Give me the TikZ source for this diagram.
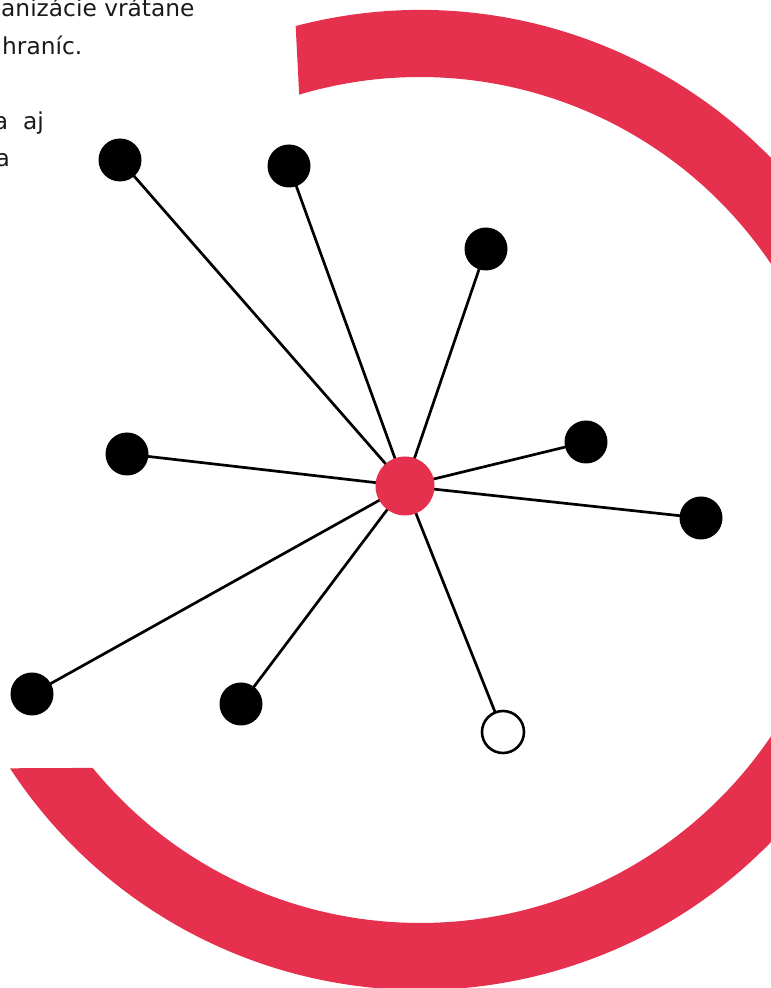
\documentclass[tikz,border=0pt]{standalone}
\usepackage{fontspec}
\setmainfont{DejaVu Sans}
\definecolor{ringred}{RGB}{230,49,78}
\definecolor{txt}{RGB}{26,26,26}
\pgfdeclarelayer{back}
\pgfsetlayers{back,main}
\begin{document}
\begin{tikzpicture}[x=1pt,y=1pt,
  dot/.style={circle,fill=black,minimum size=43pt,inner sep=0pt},
  opendot/.style={circle,draw=black,line width=2.6pt,fill=white,minimum size=42pt,inner sep=0pt},
  hub/.style={circle,fill=ringred,minimum size=59pt,inner sep=0pt},
  spoke/.style={draw=black,line width=2.7pt},
  para/.style={inner sep=0pt,text=txt,font=\fontsize{23.3}{28}\selectfont}]
\useasboundingbox (0,0) rectangle (771,988);
% ring
\fill[ringred] ([shift={(420,488)}]104.7:490) arc[start angle=104.7,end angle=-146.8,radius=490]
  -- ([shift={(420,488)}]-140.7:423) arc[start angle=-140.7,end angle=106.6,radius=423] -- cycle;
% text
\node[para,anchor=base west] (t1) at (1,971) {anizácie vrátane};
\node[para,anchor=base west] (t2) at (2,933) {hraníc.};
\node[para,anchor=base east] (t3) at (44,858) {a\ \ aj};
\node[para,anchor=base east] (t4) at (10,821) {a};
% nodes
\node[hub] (c) at (405,502) {};
\node[dot] (n1) at (120,828) {};
\node[dot] (n2) at (289,822) {};
\node[dot] (n3) at (486,739) {};
\node[dot] (n4) at (127,534) {};
\node[dot] (n5) at (586,546) {};
\node[dot] (n6) at (701,470) {};
\node[dot] (n7) at (32,294) {};
\node[dot] (n8) at (241,284) {};
\node[opendot] (n9) at (503,256) {};
% spokes
\begin{pgfonlayer}{back}
\foreach \n in {n1,n2,n3,n4,n5,n6,n7,n8,n9}
  \draw[spoke] (c.center) -- (\n.center);
\end{pgfonlayer}
\end{tikzpicture}
\end{document}
